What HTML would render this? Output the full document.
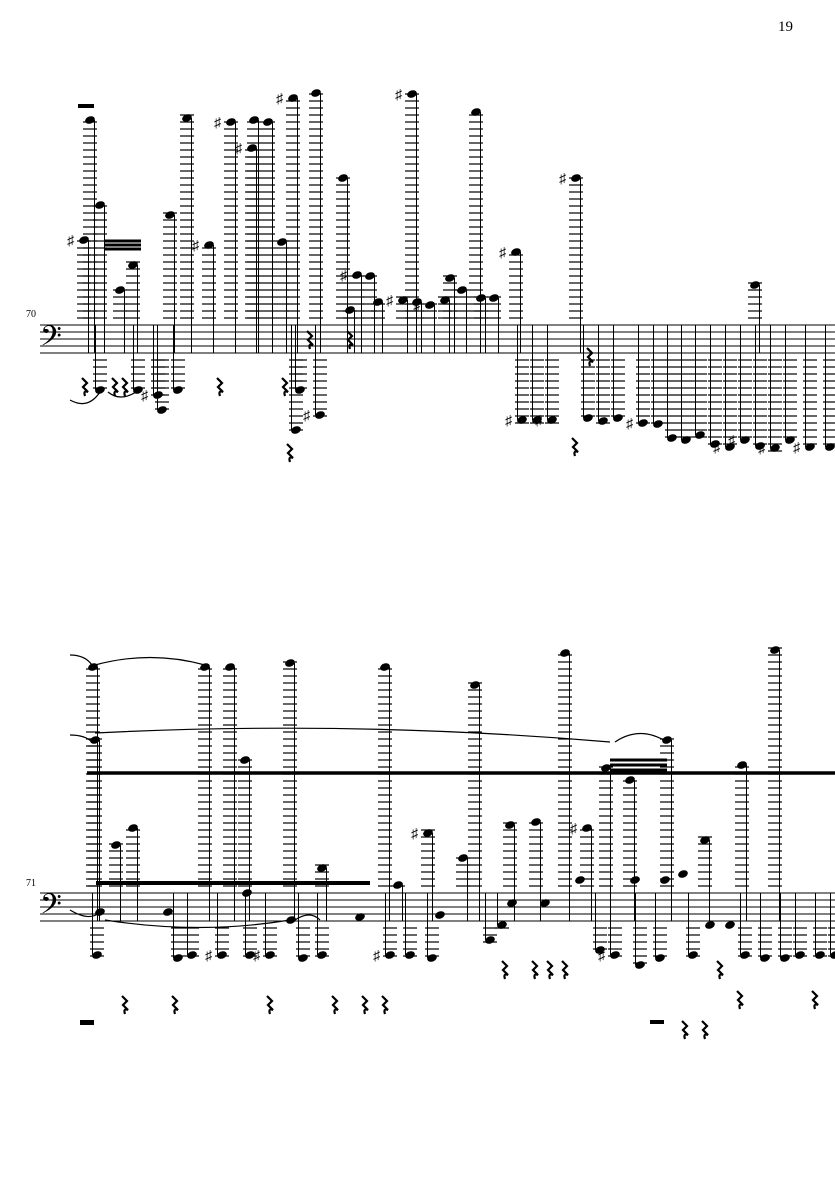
<!DOCTYPE html>
<html><head><meta charset="utf-8"><style>
html,body{margin:0;padding:0;background:#fff;width:835px;height:1181px;overflow:hidden}
svg{display:block}
text{font-family:"Liberation Serif",serif;fill:#000}
</style></head><body>
<svg id="s" width="835" height="1181" viewBox="0 0 835 1181" xmlns="http://www.w3.org/2000/svg">
<text x="778" y="31" font-size="15">19</text>
<text x="26" y="317" font-size="10">70</text>
<text x="26" y="886" font-size="10">71</text>
<text x="40" y="351" font-size="34">𝄢</text>
<text x="40" y="919" font-size="34">𝄢</text>
<g id="g"></g>
</svg>
<script>
var g=document.getElementById('g'),o='';
function L(x1,y1,x2,y2,w){o+='<line x1="'+x1+'" y1="'+y1+'" x2="'+x2+'" y2="'+y2+'" stroke="#000" stroke-width="'+(w||1)+'"/>';}
function H(x,y){o+='<ellipse cx="'+x+'" cy="'+y+'" rx="5" ry="3.6" transform="rotate(-20 '+x+' '+y+')" fill="#000"/>';}
function staff(t){for(var i=0;i<5;i++)L(40,t+i*7,835,t+i*7,0.9);}
function hi(t,x,y,sh){var b=t+28;for(var yy=t-7;yy>=y-3;yy-=7)L(x-7,yy,x+7,yy,1.2);H(x,y);L(x+4.5,y,x+4.5,b,1);if(sh)o+='<text x="'+(x-17)+'" y="'+(y+5)+'" font-size="14">♯</text>';}
function lo(t,x,y,sh){var b=t+28;for(var yy=b+7;yy<=y+3;yy+=7)L(x-7,yy,x+7,yy,1.2);H(x,y);L(x-4.5,y,x-4.5,t,1);if(sh)o+='<text x="'+(x-17)+'" y="'+(y+5)+'" font-size="14">♯</text>';}
function rest(x,y){y-=14;o+='<path d="M'+(x+2)+' '+y+' l5 5 l-4 4 l5 5 q-5 -2 -3 4" fill="none" stroke="#000" stroke-width="2.2"/>';}
staff(325);staff(893);
var A=[[90,120],[100,205],[84,240,1],[120,290],[133,265],[170,215],[187,118],[209,245,1],[231,122,1],[252,148,1],[254,120],[268,122],[282,242],[293,98,1],[316,93],[343,178],[357,275,1],[370,276],[378,302],[350,310],[403,300,1],[412,94,1],[417,302],[430,305,1],[445,300],[450,278],[462,290],[476,112],[481,298],[494,298],[516,252,1],[576,178,1],[755,285]];
A.forEach(function(a){hi(325,a[0],a[1],a[2]);});
var B=[[100,390],[138,390],[162,410],[178,390],[158,395,1],[296,430],[320,415,1],[300,390],[522,420,1],[537,420],[552,420,1],[588,418],[603,421],[618,418],[643,423,1],[658,424],[672,438],[686,440],[700,435],[715,444],[730,447,1],[745,440,1],[760,446],[775,448,1],[790,440],[810,447,1],[830,447]];
B.forEach(function(a){lo(325,a[0],a[1],a[2]);});
[[80,392],[110,392],[120,392],[215,392],[280,392],[285,458],[305,345],[345,345],[585,362],[570,452]].forEach(function(r){rest(r[0],r[1]);});
L(104,241,141,241,3);L(104,245,141,245,3);L(104,249,141,249,3);
var C=[[93,667],[95,740],[116,845],[133,828],[205,667],[230,667],[245,760],[290,663],[322,868],[385,667],[398,885],[428,833,1],[463,858],[475,685],[510,825],[536,822],[565,653],[587,828,1],[606,768],[630,780],[667,740],[705,840],[742,765],[775,650]];
C.forEach(function(a){hi(893,a[0],a[1],a[2]);});
var D=[[97,955],[178,958],[192,955],[222,955,1],[250,955],[270,955,1],[303,958],[322,955],[390,955,1],[410,955],[432,958],[490,940],[502,925],[600,950],[615,955,1],[640,965],[660,958],[693,955],[745,955],[765,958],[785,958],[800,955],[820,955],[835,955]];
D.forEach(function(a){lo(893,a[0],a[1],a[2]);});
[[100,912],[168,912],[247,893],[291,920],[360,917],[440,915],[512,903],[545,903],[580,880],[635,880],[665,880],[683,874],[710,925],[730,925]].forEach(function(a){H(a[0],a[1]);});
L(87,773,835,773,3.5);L(96,883,370,883,4);L(610,760,667,760,3);L(610,765,667,765,3);L(610,770,667,770,3);
[[120,1010],[170,1010],[265,1010],[330,1010],[360,1010],[380,1010],[500,975],[530,975],[545,975],[560,975],[680,1035],[700,1035],[715,975],[735,1005],[810,1005]].forEach(function(r){rest(r[0],r[1]);});
o+='<path d="M70 400 Q88 410 100 392 M108 392 Q120 402 136 392 M70 655 Q85 655 92 665 M70 735 Q85 735 92 742 M95 665 Q150 650 205 665 M95 733 Q350 720 610 742 M615 742 Q640 725 667 742 M70 910 Q90 922 100 912 M105 920 Q200 935 290 920 M295 920 Q310 910 320 920" fill="none" stroke="#000" stroke-width="1.2"/>';
o+='<rect x="78" y="104" width="16" height="4"/><rect x="80" y="1020" width="14" height="5"/><rect x="650" y="1020" width="14" height="4"/>';
g.innerHTML=o;
</script>
</body></html>
